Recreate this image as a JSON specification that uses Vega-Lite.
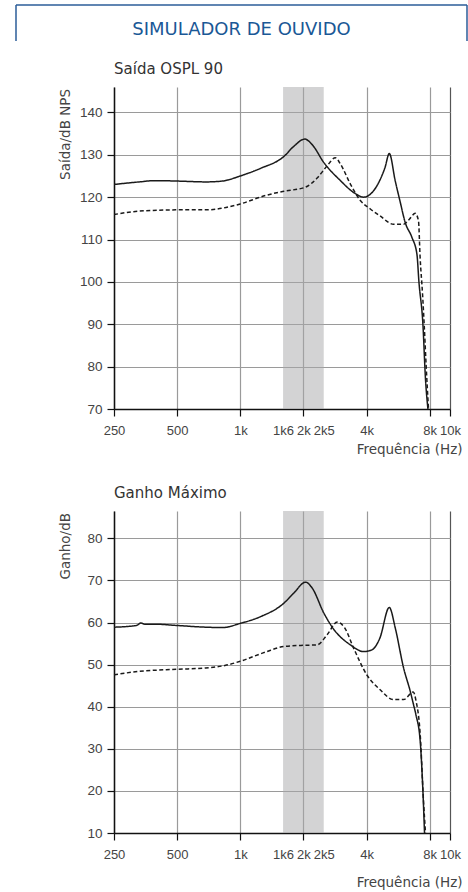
{
  "$schema": "https://vega.github.io/schema/vega-lite/v6.json",
  "padding": {"left": 15, "top": 4, "right": 2, "bottom": 2},
  "background": "white",
  "spacing": 20,
  "config": {"view": {"stroke": null}, "font": "DejaVu Sans"},
  "datasets": {
    "ospl": [
      {"f": 250, "v": 123.0, "c": "solid"}, {"f": 330, "v": 123.6, "c": "solid"}, {"f": 390, "v": 123.9, "c": "solid"},
      {"f": 500, "v": 123.8, "c": "solid"}, {"f": 684, "v": 123.6, "c": "solid"}, {"f": 822, "v": 123.8, "c": "solid"},
      {"f": 1000, "v": 125.0, "c": "solid"}, {"f": 1250, "v": 126.8, "c": "solid"}, {"f": 1614, "v": 129.6, "c": "solid"},
      {"f": 1800, "v": 132.0, "c": "solid"}, {"f": 2030, "v": 133.7, "c": "solid"}, {"f": 2202, "v": 132.4, "c": "solid"},
      {"f": 2500, "v": 128.2, "c": "solid"}, {"f": 3004, "v": 123.9, "c": "solid"}, {"f": 3472, "v": 121.1, "c": "solid"},
      {"f": 3875, "v": 120.0, "c": "solid"}, {"f": 4170, "v": 120.7, "c": "solid"}, {"f": 4630, "v": 124.0, "c": "solid"},
      {"f": 4900, "v": 127.0, "c": "solid"}, {"f": 5135, "v": 130.3, "c": "solid"}, {"f": 5483, "v": 123.8, "c": "solid"},
      {"f": 5780, "v": 119.0, "c": "solid"}, {"f": 6117, "v": 114.0, "c": "solid"}, {"f": 6584, "v": 110.5, "c": "solid"},
      {"f": 6956, "v": 106.5, "c": "solid"}, {"f": 7110, "v": 100.0, "c": "solid"}, {"f": 7427, "v": 90.0, "c": "solid"},
      {"f": 7642, "v": 77.0, "c": "solid"}, {"f": 7848, "v": 70.0, "c": "solid"},
      {"f": 250, "v": 115.9, "c": "dashed"}, {"f": 330, "v": 116.7, "c": "dashed"}, {"f": 500, "v": 117.0, "c": "dashed"},
      {"f": 684, "v": 117.0, "c": "dashed"}, {"f": 822, "v": 117.4, "c": "dashed"}, {"f": 1000, "v": 118.4, "c": "dashed"},
      {"f": 1321, "v": 120.4, "c": "dashed"}, {"f": 1614, "v": 121.4, "c": "dashed"}, {"f": 2030, "v": 122.3, "c": "dashed"},
      {"f": 2326, "v": 124.5, "c": "dashed"}, {"f": 2595, "v": 127.4, "c": "dashed"}, {"f": 2842, "v": 129.3, "c": "dashed"},
      {"f": 3004, "v": 127.8, "c": "dashed"}, {"f": 3350, "v": 123.1, "c": "dashed"}, {"f": 3737, "v": 119.2, "c": "dashed"},
      {"f": 4170, "v": 117.2, "c": "dashed"}, {"f": 4630, "v": 115.6, "c": "dashed"}, {"f": 5383, "v": 113.6, "c": "dashed"},
      {"f": 6008, "v": 113.6, "c": "dashed"}, {"f": 6400, "v": 114.8, "c": "dashed"}, {"f": 6827, "v": 116.2, "c": "dashed"},
      {"f": 7076, "v": 114.4, "c": "dashed"}, {"f": 7200, "v": 106.0, "c": "dashed"}, {"f": 7400, "v": 97.0, "c": "dashed"},
      {"f": 7531, "v": 90.0, "c": "dashed"}, {"f": 7700, "v": 80.0, "c": "dashed"}, {"f": 7897, "v": 70.0, "c": "dashed"}
    ],
    "ganho": [
      {"f": 250, "v": 58.9, "c": "solid"}, {"f": 320, "v": 59.3, "c": "solid"}, {"f": 336, "v": 59.9, "c": "solid"},
      {"f": 350, "v": 59.6, "c": "solid"}, {"f": 395, "v": 59.6, "c": "solid"}, {"f": 500, "v": 59.3, "c": "solid"},
      {"f": 684, "v": 58.9, "c": "solid"}, {"f": 822, "v": 58.8, "c": "solid"}, {"f": 1000, "v": 59.8, "c": "solid"},
      {"f": 1250, "v": 61.4, "c": "solid"}, {"f": 1614, "v": 64.6, "c": "solid"}, {"f": 1800, "v": 67.0, "c": "solid"},
      {"f": 2050, "v": 69.6, "c": "solid"}, {"f": 2202, "v": 68.2, "c": "solid"}, {"f": 2500, "v": 62.3, "c": "solid"},
      {"f": 2790, "v": 58.4, "c": "solid"}, {"f": 3350, "v": 54.7, "c": "solid"}, {"f": 3875, "v": 53.1, "c": "solid"},
      {"f": 4240, "v": 53.5, "c": "solid"}, {"f": 4630, "v": 56.3, "c": "solid"}, {"f": 5135, "v": 63.6, "c": "solid"},
      {"f": 5483, "v": 58.7, "c": "solid"}, {"f": 6008, "v": 49.2, "c": "solid"}, {"f": 6461, "v": 43.7, "c": "solid"},
      {"f": 6700, "v": 40.5, "c": "solid"}, {"f": 6880, "v": 38.1, "c": "solid"}, {"f": 7210, "v": 31.8, "c": "solid"},
      {"f": 7427, "v": 20.0, "c": "solid"}, {"f": 7560, "v": 10.0, "c": "solid"},
      {"f": 250, "v": 47.6, "c": "dashed"}, {"f": 330, "v": 48.4, "c": "dashed"}, {"f": 500, "v": 48.9, "c": "dashed"},
      {"f": 684, "v": 49.2, "c": "dashed"}, {"f": 845, "v": 49.8, "c": "dashed"}, {"f": 1000, "v": 50.8, "c": "dashed"},
      {"f": 1321, "v": 53.0, "c": "dashed"}, {"f": 1614, "v": 54.3, "c": "dashed"}, {"f": 2030, "v": 54.6, "c": "dashed"},
      {"f": 2326, "v": 54.7, "c": "dashed"}, {"f": 2595, "v": 57.1, "c": "dashed"}, {"f": 2900, "v": 60.1, "c": "dashed"},
      {"f": 3150, "v": 58.7, "c": "dashed"}, {"f": 3472, "v": 53.9, "c": "dashed"}, {"f": 4010, "v": 47.6, "c": "dashed"},
      {"f": 4630, "v": 44.1, "c": "dashed"}, {"f": 5383, "v": 41.7, "c": "dashed"}, {"f": 6008, "v": 41.7, "c": "dashed"},
      {"f": 6680, "v": 43.5, "c": "dashed"}, {"f": 6880, "v": 41.5, "c": "dashed"}, {"f": 7210, "v": 33.4, "c": "dashed"},
      {"f": 7476, "v": 17.6, "c": "dashed"}, {"f": 7642, "v": 10.0, "c": "dashed"}
    ]
  },
  "vconcat": [
    {
      "width": 336,
      "height": 36,
      "layer": [
        {
          "data": {"values": [{"edge": 0}, {"edge": 1}]},
          "mark": {"type": "rule", "color": "#2b5c98", "strokeWidth": 1.5},
          "encoding": {
            "x": {"field": "edge", "type": "quantitative", "scale": {"domain": [0, 1], "range": [-98, 353]}, "axis": null},
            "y": {"datum": 1, "type": "quantitative", "scale": {"domain": [0, 1]}, "axis": null},
            "y2": {"datum": 0}
          }
        },
        {
          "data": {"values": [{"a": 0, "b": 1}]},
          "mark": {"type": "rule", "color": "#2b5c98", "strokeWidth": 1.5},
          "encoding": {
            "x": {"field": "a", "type": "quantitative"},
            "x2": {"field": "b"},
            "y": {"datum": 1, "type": "quantitative"}
          }
        },
        {
          "data": {"values": [{"label": "SIMULADOR DE OUVIDO"}]},
          "mark": {"type": "text", "font": "DejaVu Sans", "fontSize": 18, "color": "#1a5896", "baseline": "middle"},
          "encoding": {
            "x": {"datum": 0.5, "type": "quantitative"},
            "y": {"datum": 0.3, "type": "quantitative"},
            "text": {"field": "label"}
          }
        }
      ]
    },
    {
      "width": 336,
      "height": 322,
      "title": {"text": "Saída OSPL 90", "anchor": "start", "frame": "group", "font": "DejaVu Sans", "fontSize": 15, "fontWeight": "normal", "color": "#333333", "offset": 10},
      "encoding": {
        "x": {
          "field": "f", "type": "quantitative",
          "scale": {"type": "log", "domain": [250, 10000], "nice": false},
          "axis": {
            "values": [250, 500, 1000, 1600, 2000, 2500, 4000, 8000, 10000],
            "labelExpr": "datum.value < 1000 ? '' + datum.value : floor(datum.value / 1000) + 'k' + (datum.value % 1000 ? '' + (datum.value % 1000) / 100 : '')",
            "labelFont": "Liberation Sans", "labelFontSize": 13, "labelColor": "#444444",
            "labelOverlap": false, "labelFlush": false, "labelPadding": 8,
            "tickSize": 7, "tickColor": "#111111", "tickWidth": 1.2,
            "tickOpacity": {"condition": {"test": "datum.value == 1600 || datum.value == 2500", "value": 0}, "value": 1},
            "grid": true,
            "gridColor": {"condition": {"test": "datum.value == 10000", "value": "#555555"}, "value": "#9a9a9a"},
            "gridOpacity": {"condition": {"test": "datum.value == 1600 || datum.value == 2500", "value": 0}, "value": 1},
            "gridWidth": 1.2,
            "domainColor": "#111111", "domainWidth": 1.5,
            "minExtent": 57,
            "title": "Frequência (Hz)", "titleFont": "DejaVu Sans", "titleFontSize": 13.5, "titleFontWeight": "normal", "titleColor": "#444444",
            "titleAlign": "right", "titleAnchor": "end", "titleX": 348, "titleY": 44, "titleBaseline": "alphabetic"
          }
        }
      },
      "layer": [
        {
          "data": {"values": [{"f": 1600, "f2": 2500}]},
          "mark": {"type": "rect", "color": "#a7a7aa", "opacity": 0.5},
          "encoding": {"x2": {"field": "f2"}}
        },
        {
          "data": {"name": "ospl"},
          "mark": {"type": "line", "interpolate": "monotone", "color": "#1a1a1a", "strokeWidth": 1.5},
          "encoding": {
            "y": {
              "field": "v", "type": "quantitative",
              "scale": {"domain": [70, 146], "nice": false, "zero": false},
              "axis": {
                "values": [70, 80, 90, 100, 110, 120, 130, 140],
                "grid": true, "gridColor": "#9a9a9a", "gridWidth": 1.2,
                "tickSize": 7, "tickColor": "#111111", "tickWidth": 1.2, "labelPadding": 5,
                "labelFont": "Liberation Sans", "labelFontSize": 13.5, "labelColor": "#444444",
                "domainColor": "#111111", "domainWidth": 1.5,
                "title": "Saída/dB NPS", "titleFont": "DejaVu Sans", "titleFontSize": 13.5, "titleFontWeight": "normal", "titleColor": "#444444",
                "titleX": -45, "titleY": 1.5, "titleAlign": "right", "titleAnchor": "end", "titleBaseline": "alphabetic", "titleAngle": -90
              }
            },
            "strokeDash": {"field": "c", "type": "nominal", "scale": {"domain": ["solid", "dashed"], "range": [[1, 0], [4, 2.5]]}, "legend": null}
          }
        }
      ]
    },
    {
      "width": 336,
      "height": 322,
      "title": {"text": "Ganho Máximo", "anchor": "start", "frame": "group", "font": "DejaVu Sans", "fontSize": 15, "fontWeight": "normal", "color": "#333333", "offset": 10},
      "encoding": {
        "x": {
          "field": "f", "type": "quantitative",
          "scale": {"type": "log", "domain": [250, 10000], "nice": false},
          "axis": {
            "values": [250, 500, 1000, 1600, 2000, 2500, 4000, 8000, 10000],
            "labelExpr": "datum.value < 1000 ? '' + datum.value : floor(datum.value / 1000) + 'k' + (datum.value % 1000 ? '' + (datum.value % 1000) / 100 : '')",
            "labelFont": "Liberation Sans", "labelFontSize": 13, "labelColor": "#444444",
            "labelOverlap": false, "labelFlush": false, "labelPadding": 8,
            "tickSize": 7, "tickColor": "#111111", "tickWidth": 1.2,
            "tickOpacity": {"condition": {"test": "datum.value == 1600 || datum.value == 2500", "value": 0}, "value": 1},
            "grid": true,
            "gridColor": {"condition": {"test": "datum.value == 10000", "value": "#555555"}, "value": "#9a9a9a"},
            "gridOpacity": {"condition": {"test": "datum.value == 1600 || datum.value == 2500", "value": 0}, "value": 1},
            "gridWidth": 1.2,
            "domainColor": "#111111", "domainWidth": 1.5,
            "title": "Frequência (Hz)", "titleFont": "DejaVu Sans", "titleFontSize": 13.5, "titleFontWeight": "normal", "titleColor": "#444444",
            "titleAlign": "right", "titleAnchor": "end", "titleX": 348, "titleY": 53.5, "titleBaseline": "alphabetic"
          }
        }
      },
      "layer": [
        {
          "data": {"values": [{"f": 1600, "f2": 2500}]},
          "mark": {"type": "rect", "color": "#a7a7aa", "opacity": 0.5},
          "encoding": {"x2": {"field": "f2"}}
        },
        {
          "data": {"name": "ganho"},
          "mark": {"type": "line", "interpolate": "monotone", "color": "#1a1a1a", "strokeWidth": 1.5},
          "encoding": {
            "y": {
              "field": "v", "type": "quantitative",
              "scale": {"domain": [10, 86.5], "nice": false, "zero": false},
              "axis": {
                "values": [10, 20, 30, 40, 50, 60, 70, 80],
                "grid": true, "gridColor": "#9a9a9a", "gridWidth": 1.2,
                "tickSize": 7, "tickColor": "#111111", "tickWidth": 1.2, "labelPadding": 5,
                "labelFont": "Liberation Sans", "labelFontSize": 13.5, "labelColor": "#444444",
                "domainColor": "#111111", "domainWidth": 1.5,
                "title": "Ganho/dB", "titleFont": "DejaVu Sans", "titleFontSize": 13.5, "titleFontWeight": "normal", "titleColor": "#444444",
                "titleX": -45, "titleY": 1.5, "titleAlign": "right", "titleAnchor": "end", "titleBaseline": "alphabetic", "titleAngle": -90
              }
            },
            "strokeDash": {"field": "c", "type": "nominal", "scale": {"domain": ["solid", "dashed"], "range": [[1, 0], [4, 2.5]]}, "legend": null}
          }
        }
      ]
    }
  ]
}
